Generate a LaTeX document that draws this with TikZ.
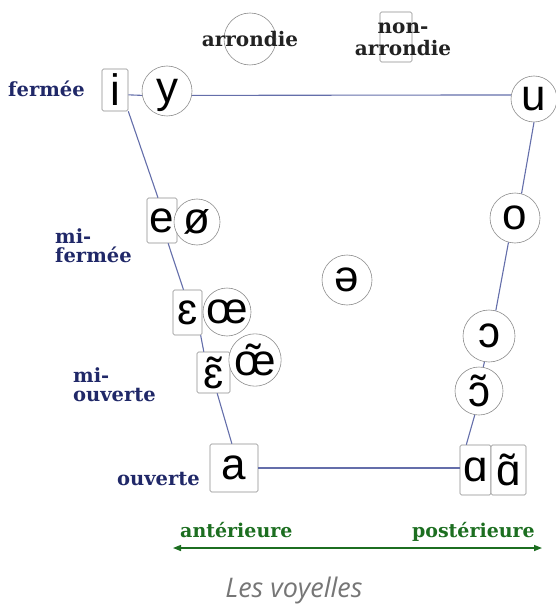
\documentclass[tikz,border=0pt]{standalone}
\usepackage{fontspec}
\setmainfont{DejaVu Serif}
\newfontfamily\ipafont{Liberation Sans}
\newfontfamily\captionfont{Open Sans}
\usetikzlibrary{arrows.meta}
\definecolor{navy}{RGB}{32,40,104}
\definecolor{linec}{RGB}{100,110,170}
\definecolor{darkgreen}{RGB}{28,110,32}
\definecolor{capgray}{RGB}{118,118,118}
\definecolor{labdark}{RGB}{34,34,34}
\begin{document}
\begin{tikzpicture}[x=1pt,y=-1pt,
  vbox/.style={draw=black!45, fill=white, rounded corners=1.5pt, inner sep=0pt, line width=0.6pt,
    font=\ipafont\fontsize{44}{44}\selectfont},
  vcirc/.style={circle, draw=black!45, fill=white, inner sep=0pt, line width=0.6pt,
    font=\ipafont\fontsize{44}{44}\selectfont},
  lbl/.style={font=\bfseries\fontsize{19.5}{19}\selectfont, text=navy, align=left, inner sep=0pt},
  toplbl/.style={font=\bfseries\fontsize{20}{22}\selectfont, text=labdark, align=center, inner sep=0pt},
  axlbl/.style={font=\bfseries\fontsize{19}{19}\selectfont, text=darkgreen, inner sep=0pt},
  conn/.style={draw=linec, line width=1.1pt}
]
\useasboundingbox (0,0) rectangle (555,604);

% legend
\node[circle, draw=black!45, line width=0.6pt, minimum size=52pt, inner sep=0pt] (arrcirc) at (250,39) {};
\node[toplbl, anchor=base] (arrlbl) at (250,47) {arrondie};
\node[draw=black!45, line width=0.6pt, rounded corners=1.5pt, minimum width=32pt, minimum height=50pt, inner sep=0pt] (nonbox) at (396,37) {};
\node[toplbl] (nonlbl) at (403,39) {non-\\arrondie};

% height labels
\node[lbl, anchor=base] (ferm) at (46.5,97) {fermée};
\node[lbl, anchor=west] (mferm) at (55,246) {mi-\\fermée};
\node[lbl, anchor=west] (mouv) at (73,385) {mi-\\ouverte};
\node[lbl, anchor=base west] (ouv) at (117,485) {ouverte};

% vowels
\node[vbox, minimum width=26pt, minimum height=42pt] (i) at (115,90) {i};
\node[vcirc, minimum size=50pt, text depth=0pt] (y) at (167,91) {y};
\node[vcirc, minimum size=46pt] (u) at (534,99) {u};
\node[vbox, minimum width=30pt, minimum height=45pt] (e) at (162,220.5) {e};
\node[vcirc, minimum size=46pt] (oe) at (197,222) {ø};
\node[vcirc, minimum size=50pt] (o) at (515,218) {o};
\node[vcirc, minimum size=50pt] (schwa) at (347,280) {ə};
\node[vbox, minimum width=29pt, minimum height=45pt] (eps) at (187.5,312.5) {ɛ};
\node[vcirc, minimum size=48pt] (oelig) at (227,312) {œ};
\node[vcirc, minimum size=52pt] (ot) at (489,336) {ɔ};
\node[vbox, minimum width=33pt, minimum height=41pt] (epst) at (213.5,372.5) {ɛ̃};
\node[vcirc, minimum size=46pt] (oeligt) at (255,360) {œ̃};
\node[vcirc, minimum size=48pt] (otn) at (479,391) {ɔ̃};
\node[vbox, minimum width=48pt, minimum height=48pt] (a) at (234,468) {a};
\node[vbox, minimum width=31pt, minimum height=50pt] (alpha) at (475.5,470) {ɑ};
\node[vbox, minimum width=35pt, minimum height=50pt] (alphat) at (508.5,470) {ɑ̃};

% trapezium
\draw[conn] (i.-20) -- (y.190);
\draw[conn] (y.-10) -- (u.170);
\draw[conn] (i.south east) -- (e.100);
\draw[conn] (e.-75) -- (eps.100);
\draw[conn] (eps.-60) -- (epst.115);
\draw[conn] (epst.-80) -- (a.95);
\draw[conn] (a.east) -- (alpha.west |- a.east);
\draw[conn] (u.-90) -- (o.75);
\draw[conn] (o.-105) -- (ot.75);
\draw[conn] (ot.-100) -- (otn.80);
\draw[conn] (otn.-100) -- (alpha.110);

% axis
\coordinate (arrL) at (173,548);
\coordinate (arrR) at (542,548);
\draw[darkgreen, line width=1.4pt, {Triangle[length=8pt,width=6pt]}-{Triangle[length=8pt,width=6pt]}] (arrL) -- (arrR);
\node[axlbl, anchor=base west] (ant) at (180,537) {antérieure};
\node[axlbl, anchor=base east] (post) at (535,537) {postérieure};

% caption
\node[font=\captionfont\itshape\fontsize{27}{27}\selectfont, text=capgray, anchor=base, inner sep=0pt] (cap) at (294,597) {Les voyelles};
\end{tikzpicture}
\end{document}
